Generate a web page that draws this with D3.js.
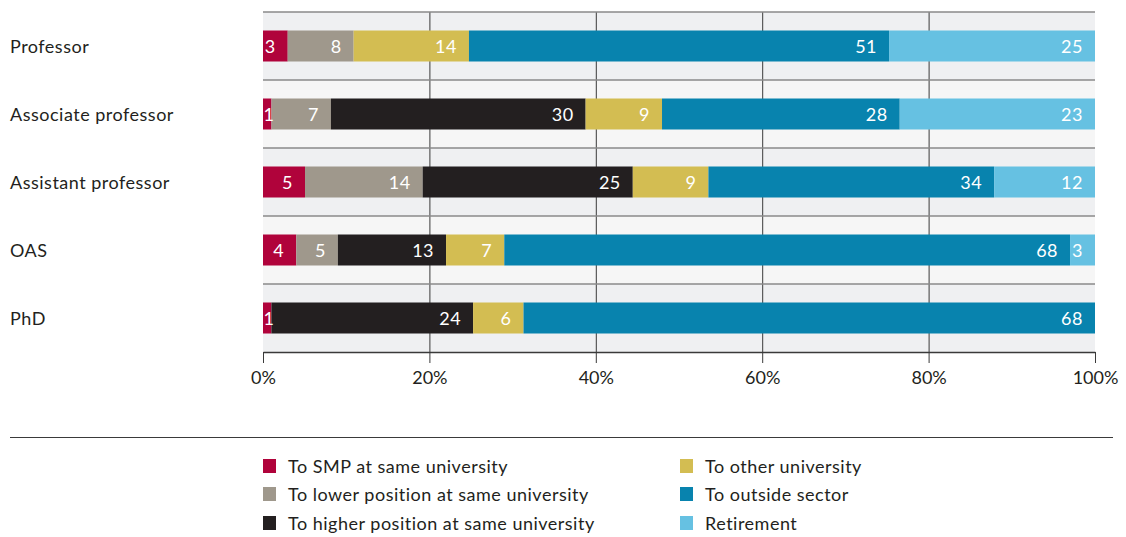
<!DOCTYPE html>
<html>
<head>
<meta charset="utf-8">
<script src="https://cdn.jsdelivr.net/npm/d3@7"></script>
<style>
  body { margin: 0; background: #fff; }
  svg text { font-family: Lato, "Open Sans", sans-serif; fill: #231f20; }
</style>
</head>
<body>
<svg id="chart"></svg>
<script>
// data
var categories = ["Professor", "Associate professor", "Assistant professor", "OAS", "PhD"];
var seriesNames = [
  "To SMP at same university",
  "To lower position at same university",
  "To higher position at same university",
  "To other university",
  "To outside sector",
  "Retirement"
];
var seriesColors = ["#b0033b", "#9f988c", "#231f20", "#d3bd52", "#0883ae", "#66c1e2"];
var smp = [3, 1, 5, 4, 1];
var lower = [8, 7, 14, 5, 0];
var higher = [0, 30, 25, 13, 24];
var otherUni = [14, 9, 9, 7, 6];
var outside = [51, 28, 34, 68, 68];
var retirement = [25, 23, 12, 3, 0];
var tickValues = [0, 20, 40, 60, 80, 100];
var tickLabels = ["0%", "20%", "40%", "60%", "80%", "100%"];

var W = 1126, H = 537;
var svg = d3.select("#chart").attr("width", W).attr("height", H);

var allSeries = [smp, lower, higher, otherUni, outside, retirement];
var keys = seriesNames;

// rows as objects, shares scaled so each bar fills 100%
var rows = categories.map(function (c, i) {
  var row = { cat: c };
  var total = d3.sum(allSeries, function (s) { return s[i]; });
  keys.forEach(function (k, j) {
    row[k] = allSeries[j][i];
    row[k + "_pct"] = allSeries[j][i] / total * 100;
  });
  return row;
});

var stack = d3.stack()
  .keys(keys)
  .value(function (d, k) { return d[k + "_pct"]; });
var stacked = stack(rows);

var x = d3.scaleLinear().domain([0, 100]).range([263, 1095]);
var y = d3.scaleBand().domain(categories).range([12, 352]).padding(0);
var color = d3.scaleOrdinal().domain(keys).range(seriesColors);
var barH = 31;

// alternating row bands
svg.append("g").selectAll("rect")
  .data(categories)
  .enter().append("rect")
  .attr("x", x(0))
  .attr("width", x(100) - x(0))
  .attr("y", function (d) { return y(d); })
  .attr("height", y.bandwidth())
  .attr("fill", function (d, i) { return i % 2 == 0 ? "#eff0f2" : "#f6f6f6"; });

// vertical grid
svg.append("g").selectAll("line")
  .data(tickValues.slice(1, -1))
  .enter().append("line")
  .attr("x1", function (d) { return x(d) + 0.5; })
  .attr("x2", function (d) { return x(d) + 0.5; })
  .attr("y1", 12)
  .attr("y2", 352)
  .attr("stroke", "#3a3a3a")
  .attr("stroke-width", 1);

// horizontal row lines
svg.append("g").selectAll("line")
  .data(categories)
  .enter().append("line")
  .attr("x1", x(0))
  .attr("x2", x(100))
  .attr("y1", function (d) { return y(d); })
  .attr("y2", function (d) { return y(d); })
  .attr("stroke", "#8a8a8a")
  .attr("stroke-width", 1.5);

// bars
var layer = svg.append("g").selectAll("g")
  .data(stacked)
  .enter().append("g")
  .attr("fill", function (d) { return color(d.key); });

layer.selectAll("rect")
  .data(function (d) { return d.filter(function (p) { return p[1] - p[0] > 0; }); })
  .enter().append("rect")
  .attr("x", function (d) { return x(d[0]); })
  .attr("width", function (d) { return x(d[1]) - x(d[0]); })
  .attr("y", function (d) { return y(d.data.cat) + (y.bandwidth() - barH) / 2; })
  .attr("height", barH);

// value labels, right aligned unless the segment is too thin
stacked.forEach(function (s) {
  s.forEach(function (p) {
    var v = p.data[s.key];
    if (!v) return;
    var x0 = x(p[0]), x1 = x(p[1]);
    var t = svg.append("text")
      .attr("y", y(p.data.cat) + y.bandwidth() / 2 + 6.5)
      .style("font-size", "18px")
      .style("letter-spacing", "0.5px")
      .style("fill", "#fff")
      .text(v);
    var tw = t.node().getComputedTextLength();
    if (x1 - x0 < tw + 8) {
      t.attr("x", x0 + 0.5).attr("text-anchor", "start");
    } else {
      t.attr("x", x1 - 12).attr("text-anchor", "end");
    }
  });
});

// category labels
svg.append("g").selectAll("text")
  .data(categories)
  .enter().append("text")
  .attr("x", 10)
  .attr("y", function (d) { return y(d) + y.bandwidth() / 2 + 6.5; })
  .style("font-size", "18px")
  .style("letter-spacing", "0.5px")
  .text(function (d) { return d; });

// x axis
var axis = svg.append("g")
  .attr("transform", "translate(0,352)")
  .call(d3.axisBottom(x)
    .tickValues(tickValues)
    .tickFormat(function (d, i) { return tickLabels[i]; })
    .tickSize(11)
    .tickPadding(8)
    .tickSizeOuter(0));
axis.select(".domain").attr("stroke", "#3a3a3a").attr("stroke-width", 1.5);
axis.selectAll(".tick line").attr("stroke", "#3a3a3a");
axis.selectAll(".tick text")
  .style("font-size", "18px")
  .style("font-family", "Lato, sans-serif")
  .attr("fill", "#231f20");

// legend
svg.append("line")
  .attr("x1", 10).attr("x2", 1113)
  .attr("y1", 437.5).attr("y2", 437.5)
  .attr("stroke", "#3a3a3a")
  .attr("stroke-width", 1.2);

var legendCols = [263, 680];
var legendRows = [466, 494, 523];
var legend = svg.append("g").selectAll("g")
  .data(keys)
  .enter().append("g")
  .attr("transform", function (d, i) {
    return "translate(" + legendCols[Math.floor(i / 3)] + "," + legendRows[i % 3] + ")";
  });
legend.append("rect")
  .attr("x", 0).attr("y", -7)
  .attr("width", 13).attr("height", 14)
  .attr("fill", function (d) { return color(d); });
legend.append("text")
  .attr("x", 25)
  .attr("y", 6.5)
  .style("font-size", "18px")
  .style("letter-spacing", "0.5px")
  .text(function (d) { return d; });
</script>
</body>
</html>
